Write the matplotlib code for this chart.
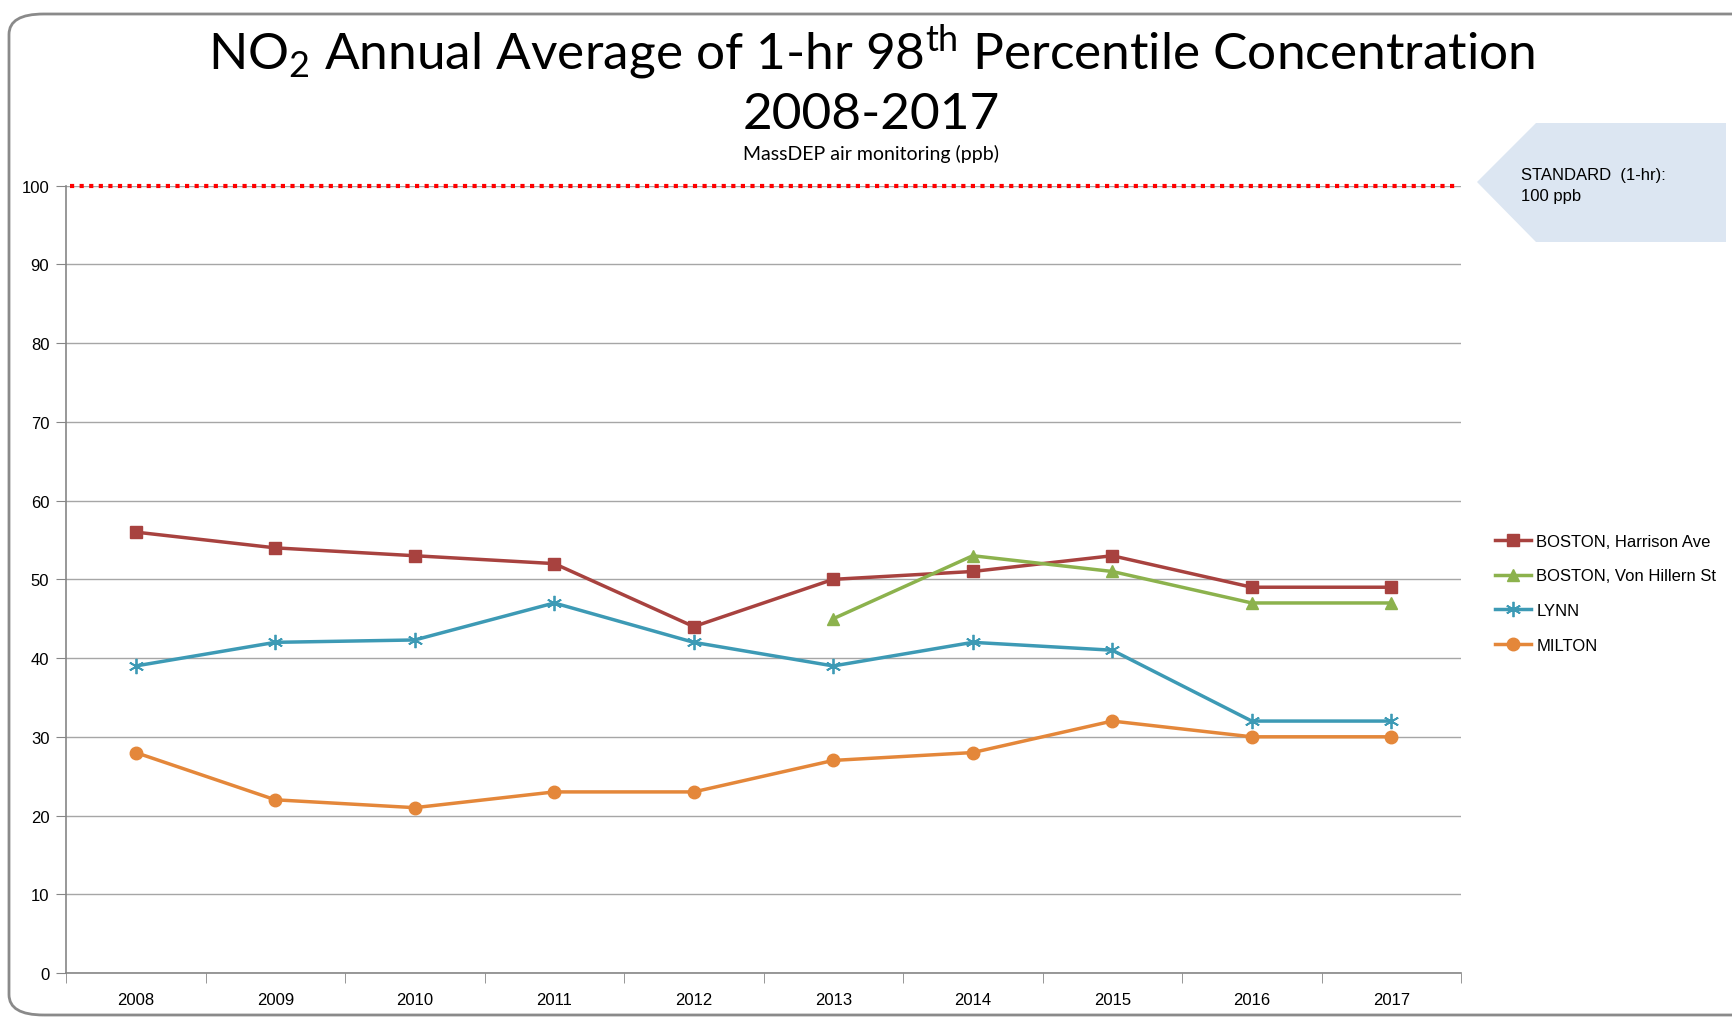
import numpy as np
import matplotlib.pyplot as plt
from matplotlib.patches import FancyBboxPatch, Polygon

# data
years = ['2008', '2009', '2010', '2011', '2012', '2013', '2014', '2015', '2016', '2017']
harrison = [56, 54, 53, 52, 44, 50, 51, 53, 49, 49]
von_hillern = [np.nan, np.nan, np.nan, np.nan, np.nan, 45, 53, 51, 47, 47]
lynn = [39, 42, 42.3, 47, 42, 39, 42, 41, 32, 32]
milton = [28, 22, 21, 23, 23, 27, 28, 32, 30, 30]
standard = 100

# series colors
HARRISON = '#A8423F'
VONHILLERN = '#8CB24D'
LYNN = '#3D9AB5'
MILTON = '#E4873A'

plt.rcParams['font.family'] = ['Liberation Sans', 'DejaVu Sans']
plt.rcParams['mathtext.fontset'] = 'custom'
plt.rcParams['mathtext.rm'] = 'Lato'
plt.rcParams['mathtext.it'] = 'Lato'
plt.rcParams['mathtext.bf'] = 'Lato'
TITLE_FONT = ['Lato', 'DejaVu Sans']

fig = plt.figure(figsize=(17.32, 10.2), dpi=100)
ax = fig.add_axes([66 / 1732, 1 - 974 / 1020, (1461 - 66) / 1732, (974 - 186.7) / 1020])

x = np.arange(len(years))

ax.plot(x, harrison, color=HARRISON, lw=2.5, marker='s', ms=9, label='BOSTON, Harrison Ave', zorder=4)
ax.plot(x, von_hillern, color=VONHILLERN, lw=2.5, marker='^', ms=9, label='BOSTON, Von Hillern St', zorder=4)
ax.plot(x, lynn, color=LYNN, lw=2.5, marker=(6, 2, 0), ms=11, mew=1.3, label='LYNN', zorder=4)
ax.plot(x, milton, color=MILTON, lw=2.5, marker='o', ms=9, label='MILTON', zorder=4)

# the 1-hr standard (sits on the top edge, so don't clip it)
ax.axhline(standard, xmin=0.003, xmax=0.996, color='#FF0000', lw=3, ls=(0, (1, 1.3)),
           zorder=5, clip_on=False)

ax.set_xlim(-0.5, len(years) - 0.5)
ax.set_ylim(0, 100)
ax.set_yticks(range(0, 101, 10))
ax.set_xticks(x)
ax.set_xticklabels(years)
ax.set_xticks(np.arange(-0.5, len(years), 1), minor=True)
ax.tick_params(axis='x', which='major', length=0, pad=14, labelsize=12)
ax.tick_params(axis='x', which='minor', length=7, color='#868686', direction='out')
ax.tick_params(axis='y', length=7, color='#868686', direction='out', pad=5, labelsize=12)
ax.grid(axis='y', color='#A6A6A6', lw=1)
ax.set_axisbelow(True)
for side in ['top', 'right']:
    ax.spines[side].set_visible(False)
for side in ['left', 'bottom']:
    ax.spines[side].set_color('#868686')
    ax.spines[side].set_linewidth(1.2)

# title block
fig.text(0.503, 1 - 52 / 1020, r'NO$_2$ Annual Average of 1-hr 98$^{\mathrm{th}}$ Percentile Concentration',
         ha='center', va='center', fontsize=37, family=TITLE_FONT)
fig.text(0.503, 1 - 115 / 1020, '2008-2017', ha='center', va='center', fontsize=37,
         family=TITLE_FONT)
fig.text(0.503, 1 - 154 / 1020, 'MassDEP air monitoring (ppb)', ha='center', va='center',
         fontsize=14, family=TITLE_FONT)

# callout box for the standard
callout = Polygon([[1477 / 1732, 1 - 183 / 1020], [1536 / 1732, 1 - 124 / 1020],
                   [1726 / 1732, 1 - 124 / 1020], [1726 / 1732, 1 - 243 / 1020],
                   [1536 / 1732, 1 - 243 / 1020]], closed=True,
                  transform=fig.transFigure, facecolor='#DCE6F2', edgecolor='none')
fig.patches.append(callout)
fig.text(1521 / 1732, 1 - 186 / 1020, 'STANDARD  (1-hr):\n100 ppb', ha='left', va='center',
         fontsize=12, linespacing=1.45)

# legend
ax.legend(loc='upper left', bbox_to_anchor=(1488 / 1732, 1 - 528 / 1020), bbox_transform=fig.transFigure,
          frameon=False, fontsize=12, handlelength=2.2, handletextpad=0.3, labelspacing=1.18,
          borderaxespad=0)

# rounded border around the figure
frame = FancyBboxPatch((9 / 1732, 4 / 1020), 1.05, 1 - 19 / 1020,
                       boxstyle='round,pad=0,rounding_size=0.02', transform=fig.transFigure,
                       facecolor='none', edgecolor='#8A8A8A', lw=2, clip_on=False)
fig.patches.append(frame)

fig.savefig('out.png', dpi=100)
